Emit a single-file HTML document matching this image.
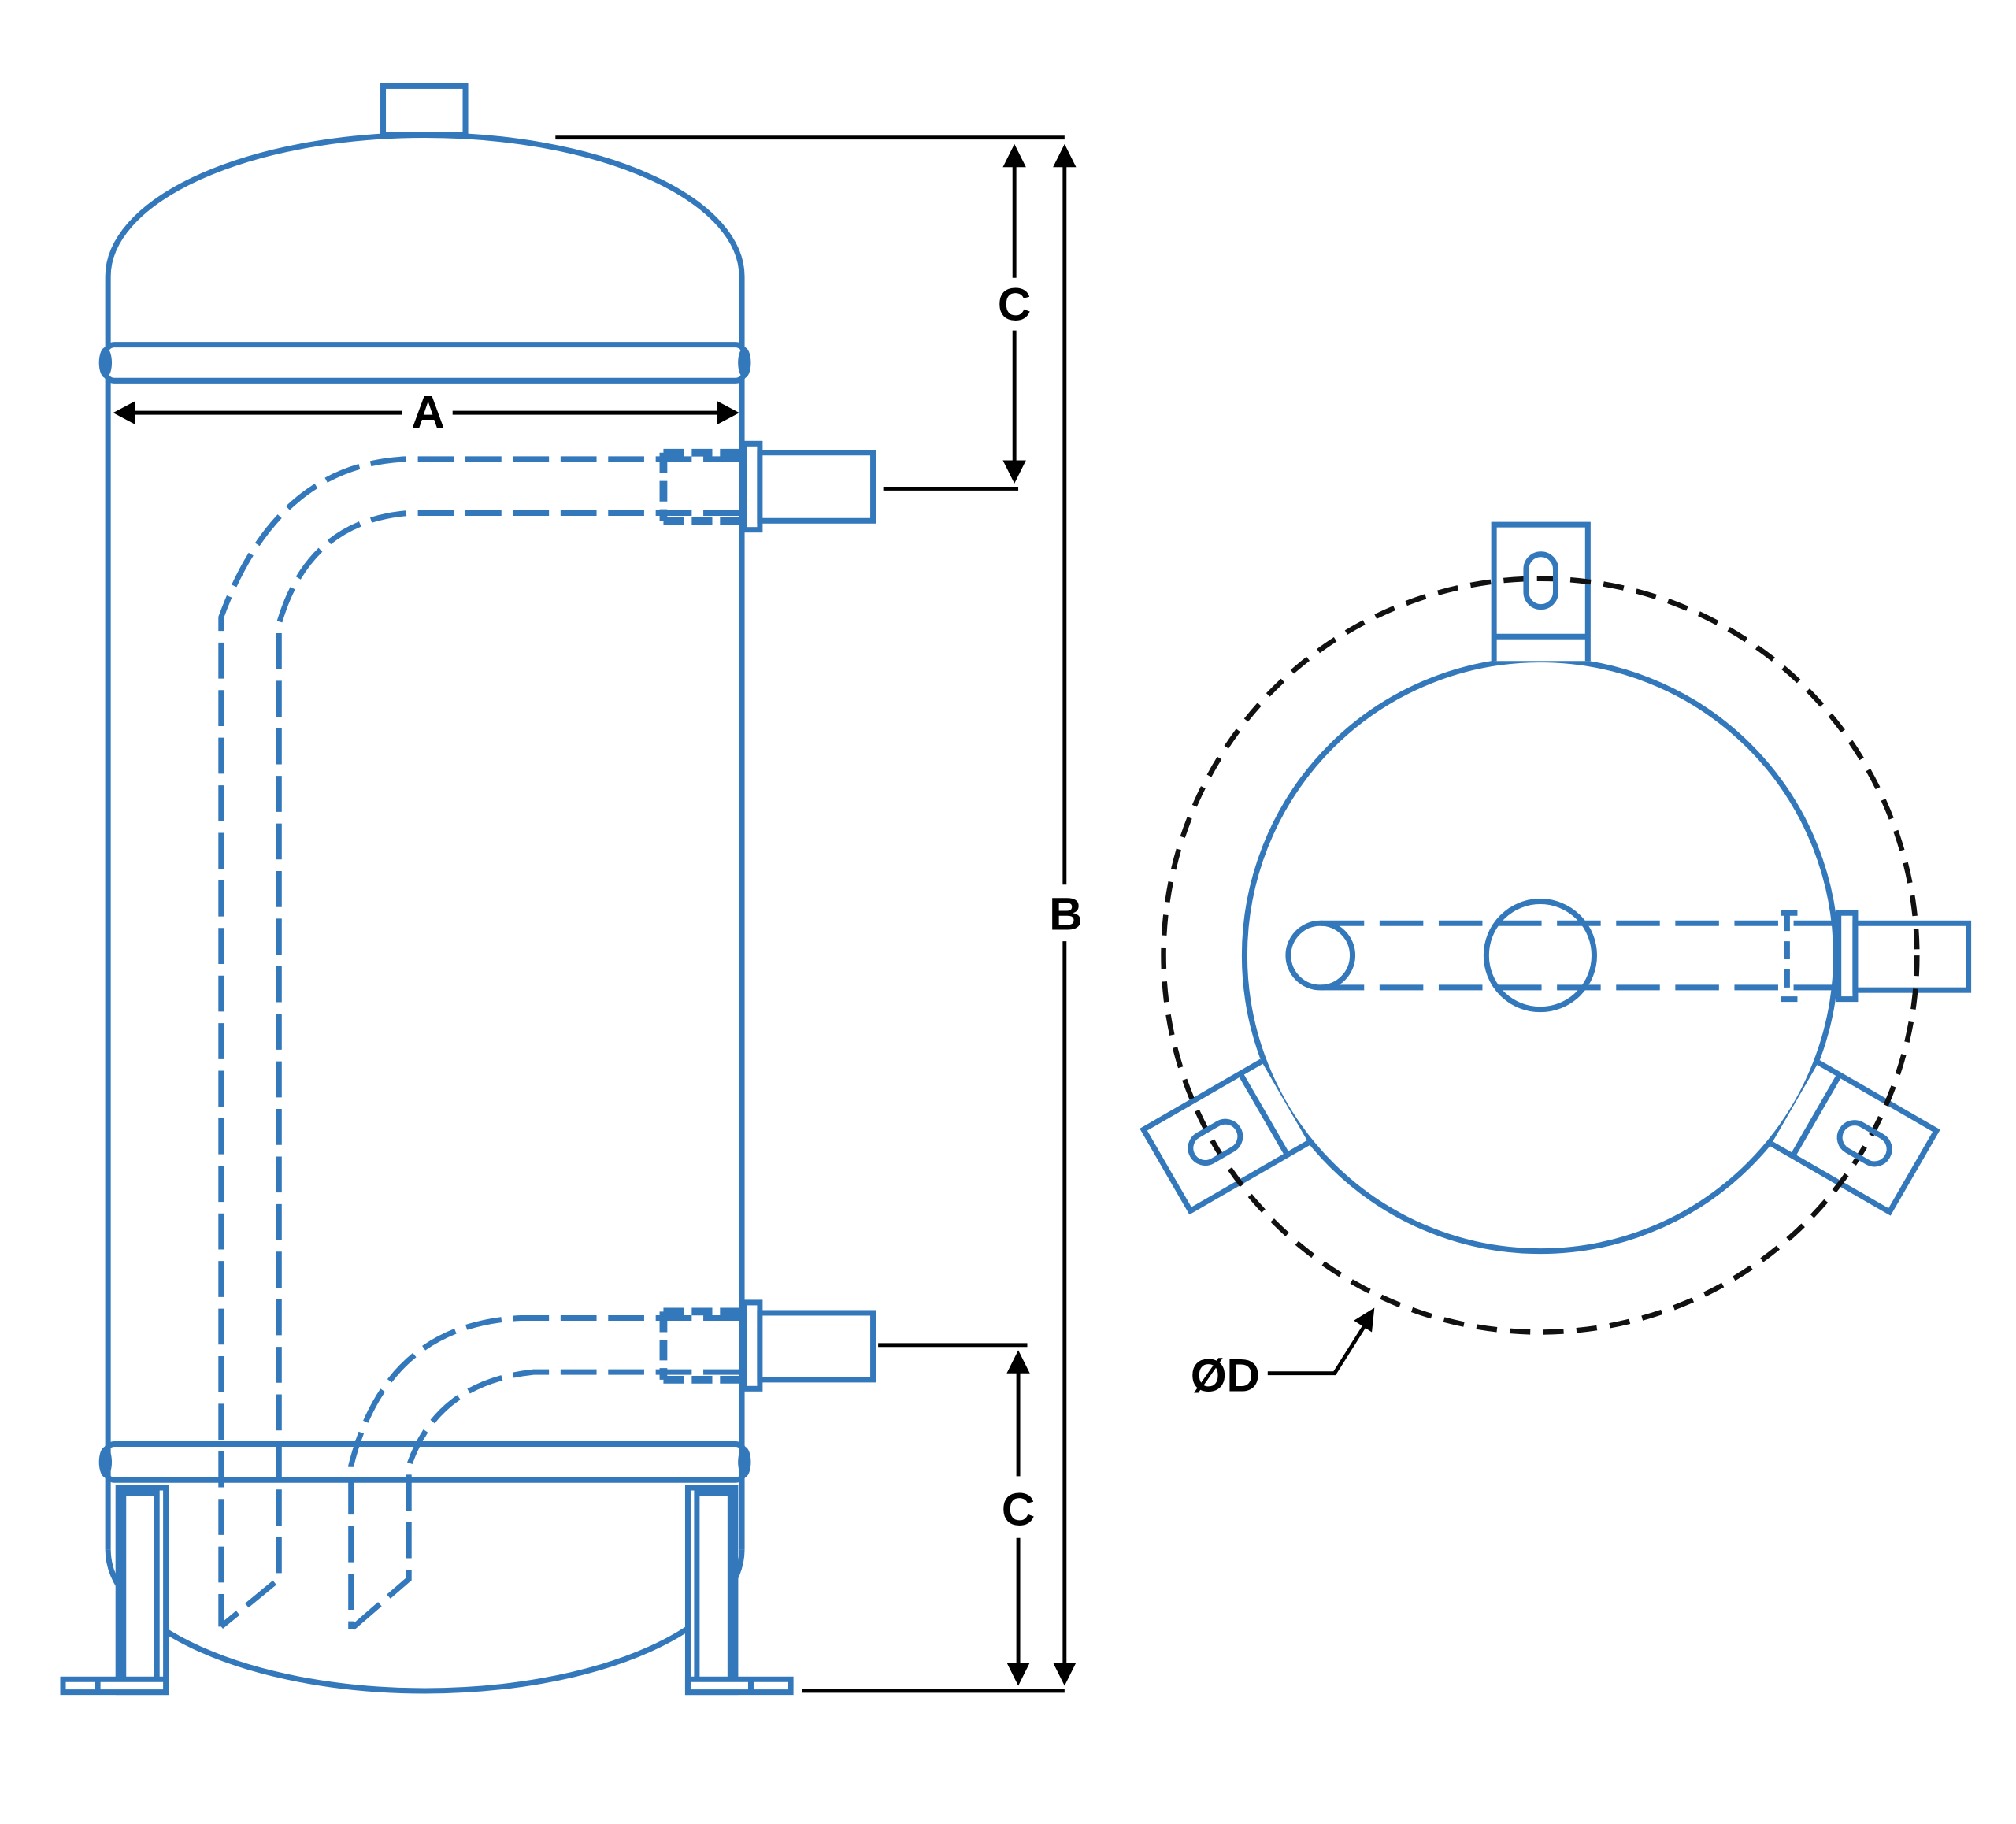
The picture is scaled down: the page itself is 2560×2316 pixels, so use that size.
<!DOCTYPE html>
<html><head><meta charset="utf-8"><style>html,body{margin:0;padding:0;background:#fff}svg{display:block}</style></head>
<body>
<svg width="2560" height="2316" viewBox="0 0 1568 1418.5" xmlns="http://www.w3.org/2000/svg">
<g fill="none" stroke="#3478bc" stroke-width="4.3">
<rect x="298" y="67" width="64" height="38" fill="#fff"/>
<path d="M84 1205 L84 215 A246.5 110 0 0 1 577 215 L577 1205"/>
<path d="M84 1205 A246.5 110 0 0 0 577 1205"/>
<rect x="82" y="268" width="497" height="28" rx="7" fill="#fff"/>
<rect x="82" y="1123" width="497" height="28" rx="7"/>
<g stroke-dasharray="28 9">
<path d="M575 357 L315 357 Q215 362 172 480 L172 1265"/>
<path d="M575 399 L318 399 Q240 405 217 485 L217 1228 L172 1265"/>
<path d="M575 1025 L405 1025 Q300 1030 273 1140 L273 1267"/>
<path d="M575 1067 L415 1067 Q340 1075 318 1140 L318 1228 L273 1267"/>
<path d="M516 352 L575 352 M516 405 L575 405 M516 352 L516 405 M516 1020 L575 1020 M516 1073 L575 1073 M516 1020 L516 1073" stroke-width="6" stroke-dasharray="16 6"/>
</g>
<rect x="579" y="345" width="12" height="67" fill="#fff"/>
<rect x="591" y="352" width="88" height="53" fill="#fff"/>
<rect x="579" y="1013" width="12" height="67" fill="#fff"/>
<rect x="591" y="1021" width="88" height="52" fill="#fff"/>
<rect x="92" y="1157" width="37" height="159" fill="#fff"/>
<rect x="96" y="1161" width="26" height="146"/>
<rect x="49" y="1306" width="80" height="10" fill="#fff"/>
<line x1="76" y1="1306" x2="76" y2="1316"/>
<rect x="535" y="1157" width="37" height="159" fill="#fff"/>
<rect x="542" y="1161" width="26" height="146"/>
<rect x="535" y="1306" width="80" height="10" fill="#fff"/>
<line x1="584" y1="1306" x2="584" y2="1316"/>
<circle cx="1198" cy="743" r="230"/>
<g id="br">
<path d="M1162 514 L1162 408 L1235 408 L1235 514 M1162 495 L1235 495" fill="#fff"/>
</g>
<use href="#br" transform="rotate(120 1198 743)"/>
<use href="#br" transform="rotate(240 1198 743)"/>
<circle cx="1027" cy="743" r="25"/>
<circle cx="1198" cy="743" r="42"/>
<g stroke-dasharray="34 12">
<path d="M1027 718 L1430 718 M1027 768 L1430 768"/>
<path d="M1385 710 L1398 710 M1385 777 L1398 777 M1390 710 L1390 777" stroke-dasharray="14 8"/>
</g>
<rect x="1430" y="710" width="13" height="67" fill="#fff"/>
<rect x="1443" y="718" width="88" height="52" fill="#fff"/>
</g>
<g fill="#3478bc">
<ellipse cx="82" cy="282" rx="5" ry="12"/><ellipse cx="579" cy="282" rx="5" ry="12"/>
<ellipse cx="82" cy="1137" rx="5" ry="12"/><ellipse cx="579" cy="1137" rx="5" ry="12"/>
</g>
<circle cx="1198" cy="743" r="293" fill="none" stroke="#111" stroke-width="4" stroke-dasharray="16 10"/>
<g fill="none" stroke="#3478bc" stroke-width="4.3">
<g id="sl"><rect x="1187" y="431" width="23" height="41" rx="11.5"/></g>
<use href="#sl" transform="rotate(120 1198 743)"/>
<use href="#sl" transform="rotate(240 1198 743)"/>
</g>
<g stroke="#000" stroke-width="3" fill="none">
<path d="M432 107 L828 107 M624 1315 L828 1315 M687 380 L792 380 M683 1046 L799 1046"/>
<path d="M789 125 L789 216 M789 257 L789 364"/>
<path d="M828 125 L828 688 M828 732 L828 1298"/>
<path d="M792 1062 L792 1148 M792 1196 L792 1298"/>
<path d="M100 321 L313 321 M352 321 L563 321"/>
<path d="M986 1068 L1038 1068 L1062 1030"/>
</g>
<g fill="#000">
<path d="M789 112 L780 130 L798 130Z M789 376 L780 358 L798 358Z"/>
<path d="M828 112 L819 130 L837 130Z M828 1311 L819 1293 L837 1293Z"/>
<path d="M792 1050 L783 1068 L801 1068Z M792 1311 L783 1293 L801 1293Z"/>
<path d="M88 321 L105 312 L105 330Z M575 321 L558 312 L558 330Z"/>
<path d="M1069 1017 L1053 1027 L1067 1036Z"/>
</g>
<g font-family="Liberation Sans, sans-serif" font-weight="bold" font-size="36" fill="#000" text-anchor="middle">
<text x="789" y="249">C</text>
<text x="829" y="723">B</text>
<text x="792" y="1186">C</text>
<text x="333" y="333">A</text>
<text x="953" y="1082">ØD</text>
</g>
</svg>
</body></html>
